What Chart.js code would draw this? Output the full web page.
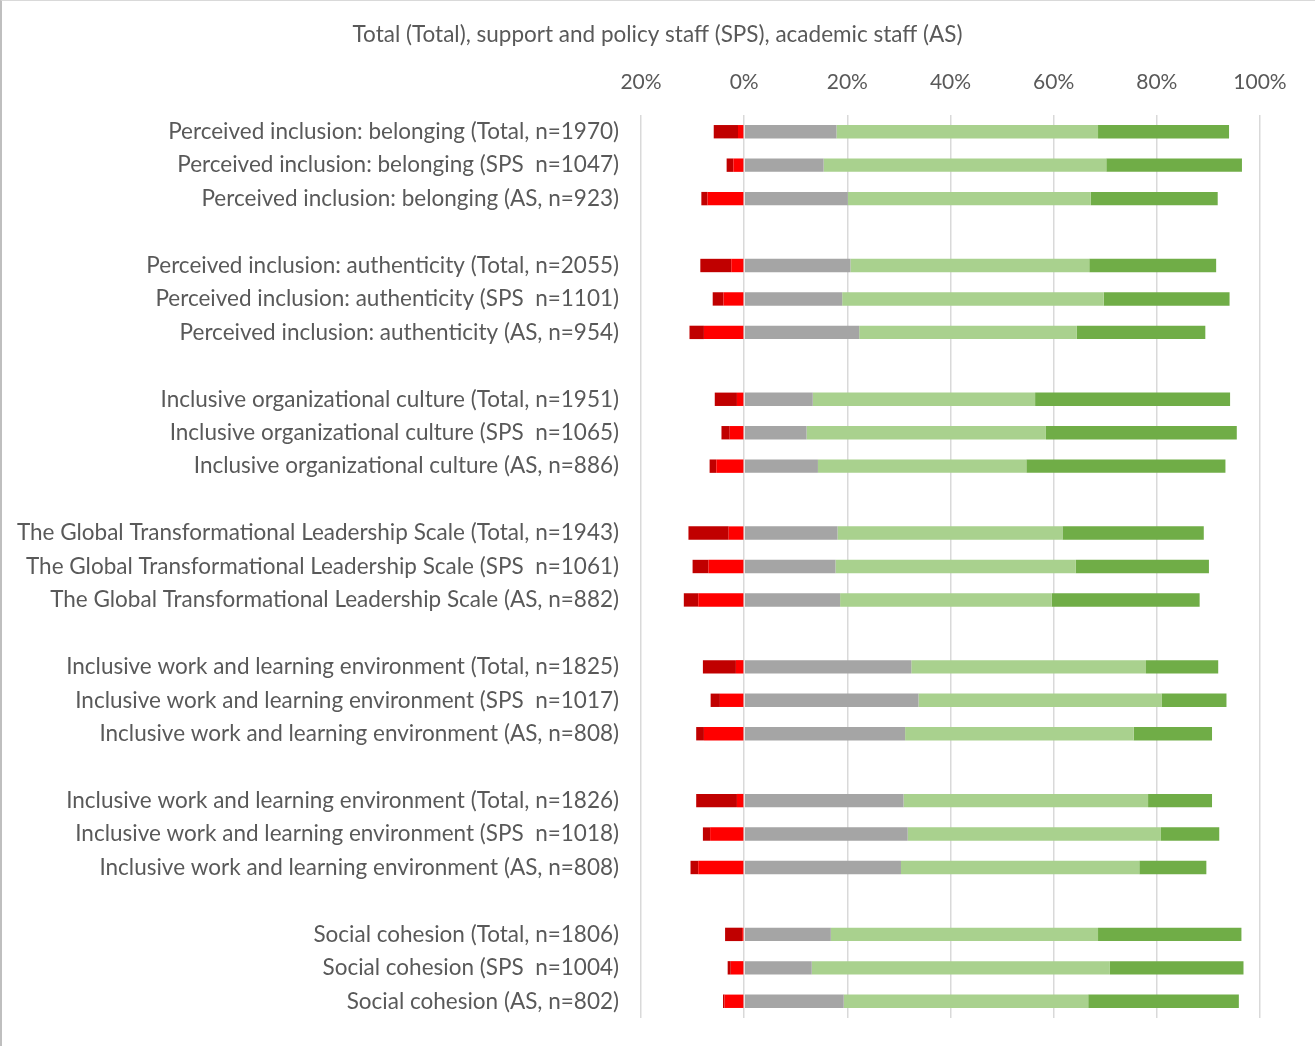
<!DOCTYPE html>
<html>
<head>
<meta charset="utf-8">
<script src="https://cdn.jsdelivr.net/npm/chart.js@4"></script>
<style>
  html, body { margin: 0; padding: 0; background: #fff; }
  #wrap { width: 1315px; height: 1046px; position: relative; }
  #grafico { position: absolute; left: 0; top: 0; }
  #marco { position: absolute; left: 0; top: 0; width: 1315px; height: 1046px; box-sizing: border-box;
           border-left: 2px solid #bfbfbf; border-top: 1px solid #d9d9d9; pointer-events: none; }
</style>
</head>
<body>
<div id="wrap"><canvas id="grafico" width="1315" height="1046"></canvas><div id="marco"></div></div>
<script>
const categorias = [
  'Perceived inclusion: belonging (Total, n=1970)',
  'Perceived inclusion: belonging (SPS  n=1047)',
  'Perceived inclusion: belonging (AS, n=923)',
  '',
  'Perceived inclusion: authenticity (Total, n=2055)',
  'Perceived inclusion: authenticity (SPS  n=1101)',
  'Perceived inclusion: authenticity (AS, n=954)',
  '',
  'Inclusive organizational culture (Total, n=1951)',
  'Inclusive organizational culture (SPS  n=1065)',
  'Inclusive organizational culture (AS, n=886)',
  '',
  'The Global Transformational Leadership Scale (Total, n=1943)',
  'The Global Transformational Leadership Scale (SPS  n=1061)',
  'The Global Transformational Leadership Scale (AS, n=882)',
  '',
  'Inclusive work and learning environment (Total, n=1825)',
  'Inclusive work and learning environment (SPS  n=1017)',
  'Inclusive work and learning environment (AS, n=808)',
  '',
  'Inclusive work and learning environment (Total, n=1826)',
  'Inclusive work and learning environment (SPS  n=1018)',
  'Inclusive work and learning environment (AS, n=808)',
  '',
  'Social cohesion (Total, n=1806)',
  'Social cohesion (SPS  n=1004)',
  'Social cohesion (AS, n=802)'
];

// disagree (negatives, drawn left of 0)
const oneens = [-1.2, -2.1, -7.1, null, -2.5, -4.0, -7.8, null, -1.4, -2.8, -5.4, null,
  -3.0, -6.9, -8.9, null, -1.6, -4.7, -7.8, null, -1.4, -6.6, -8.9, null, -0.4, -2.6, -3.8];
const zeerOneens = [-4.7, -1.3, -1.2, null, -6.0, -2.1, -2.8, null, -4.3, -1.6, -1.3, null,
  -7.8, -3.1, -2.8, null, -6.4, -1.8, -1.5, null, -7.9, -1.4, -1.5, null, -3.3, -0.6, -0.3];
const neutraal = [17.9, 15.4, 20.1, null, 20.6, 19.0, 22.3, null, 13.3, 12.1, 14.3, null,
  18.1, 17.7, 18.6, null, 32.4, 33.8, 31.2, null, 30.9, 31.7, 30.4, null, 16.8, 13.1, 19.3];
const eens = [50.7, 54.8, 47.1, null, 46.3, 50.7, 42.2, null, 43.1, 46.4, 40.4, null,
  43.6, 46.6, 41.0, null, 45.5, 47.1, 44.3, null, 47.4, 49.1, 46.2, null, 51.8, 57.8, 47.4];
const zeerEens = [25.4, 26.3, 24.6, null, 24.6, 24.4, 24.9, null, 37.8, 37.0, 38.6, null,
  27.4, 25.8, 28.7, null, 14.0, 12.6, 15.2, null, 12.4, 11.3, 13.0, null, 27.8, 25.9, 29.2];

const tickLabels = ['20%', '0%', '20%', '40%', '60%', '80%', '100%'];

const fuente = 'Lato, "Open Sans", sans-serif';
const gris = '#595959';

function serie(label, data, color) {
  return { label, data, backgroundColor: color, barPercentage: 0.8, categoryPercentage: 0.5 };
}

const ctx = document.getElementById('grafico').getContext('2d');

const chart = new Chart(ctx, {
  type: 'bar',
  data: {
    labels: categorias,
    datasets: [
      serie('Disagree', oneens, '#FF0000'),
      serie('Strongly disagree', zeerOneens, '#C00000'),
      serie('Neutral', neutraal, '#A5A5A5'),
      serie('Agree', eens, '#A9D18E'),
      serie('Strongly agree', zeerEens, '#70AD47')
    ]
  },
  options: {
    indexAxis: 'y',
    responsive: false,
    animation: false,
    layout: { padding: { top: 21.5, right: 0, bottom: 28, left: 0 } },
    plugins: {
      legend: { display: false },
      tooltip: { enabled: false },
      title: {
        display: true,
        text: 'Total (Total), support and policy staff (SPS), academic staff (AS)',
        color: gris,
        font: { family: fuente, size: 22.5, weight: 'normal' },
        padding: { top: 0, bottom: 0 }
      }
    },
    scales: {
      x: {
        position: 'top',
        stacked: true,
        min: -20,
        max: 100,
        ticks: {
          stepSize: 20,
          padding: 20,
          color: gris,
          font: { family: fuente, size: 21 },
          callback: (v, i) => tickLabels[i]
        },
        grid: { color: '#d9d9d9', lineWidth: 1.5, drawTicks: false },
        border: { display: false },
        afterFit: (s) => { s.height = 66.5; }
      },
      y: {
        stacked: true,
        ticks: {
          padding: 22,
          color: gris,
          autoSkip: false,
          font: { family: fuente, size: 22.5 }
        },
        grid: { display: false, drawTicks: false },
        border: { display: false },
        afterFit: (s) => { s.width = 641; s.paddingTop = 0; s.paddingBottom = 0; }
      },
      // lege ruimte rechts, zodat de titel over de hele breedte centreert
      rechts: {
        type: 'category',
        position: 'right',
        ticks: { display: false },
        grid: { display: false, drawTicks: false },
        border: { display: false },
        afterFit: (s) => { s.width = 55; s.paddingTop = 0; s.paddingBottom = 0; }
      }
    }
  }
});
</script>
</body>
</html>
